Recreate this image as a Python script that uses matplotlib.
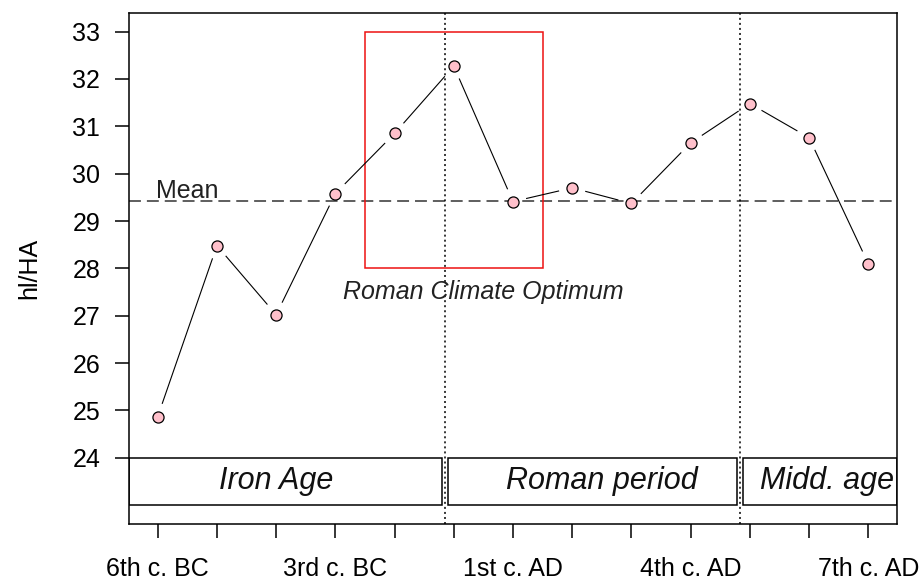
import matplotlib.pyplot as plt
import numpy as np
from matplotlib.patches import Rectangle

plt.rcParams["font.family"] = ["Liberation Sans", "DejaVu Sans"]

centuries = ["6th c. BC", "5th c. BC", "4th c. BC", "3rd c. BC", "2nd c. BC",
             "1st c. BC", "1st c. AD", "2nd c. AD", "3rd c. AD", "4th c. AD",
             "5th c. AD", "6th c. AD", "7th c. AD"]
yields = [24.87, 28.48, 27.02, 29.58, 30.85, 32.27, 29.41,
          29.70, 29.37, 30.65, 31.48, 30.76, 28.10]

periods = ["Iron Age", "Roman period", "Midd. age"]
period_start = [-0.48, 4.91, 9.89]
period_end = [4.80, 9.78, 12.48]
period_label_x = [2.0, 7.5, 11.3]
period_breaks = [4.85, 9.84]

optimum_x = (3.5, 6.5)
optimum_y = (28, 33)


def gapped_line(ax, xs, ys, gap_px):
    # R's type="b": segments stop short of each point
    pts = ax.transData.transform(np.column_stack([xs, ys]))
    inv = ax.transData.inverted()
    for p, q in zip(pts[:-1], pts[1:]):
        d = q - p
        n = np.hypot(*d)
        if n <= 2 * gap_px:
            continue
        u = d / n
        seg = inv.transform([p + u * gap_px, q - u * gap_px])
        ax.plot(seg[:, 0], seg[:, 1], color="black", lw=0.8, zorder=3)


fig = plt.figure(figsize=(9.21, 5.84), dpi=100)
ax = fig.add_axes([0.1404, 0.1027, 0.8332, 0.8756])
ax.set_xlim(-0.48, 12.48)
ax.set_ylim(22.6, 33.4)

x = np.arange(len(yields))
mean = np.mean(yields)

# period boxes along the bottom
for name, x0, x1, xl in zip(periods, period_start, period_end, period_label_x):
    ax.add_patch(Rectangle((x0, 23), x1 - x0, 1, facecolor="white",
                           edgecolor="black", lw=1.1, zorder=2))
    ax.text(xl, 23.5, name, fontsize=22, style="italic", ha="center",
            va="center", color="#111111", zorder=4)

for b in period_breaks:
    ax.axvline(b, color="black", lw=1.1, ls=(0, (1.3, 2.0)), zorder=3)

ax.axhline(mean, color="#333333", lw=1.1, ls=(0, (7.8, 3.9)), zorder=1)
ax.text(0.5, mean + 0.2, "Mean", fontsize=18, ha="center", va="center",
        color="#222222")

ax.add_patch(Rectangle((optimum_x[0], optimum_y[0]), optimum_x[1] - optimum_x[0],
                       optimum_y[1] - optimum_y[0], fill=False,
                       edgecolor="#ee1111", lw=1.1, zorder=2))
ax.text(5.5, optimum_y[0] - 0.5, "Roman Climate Optimum",
        fontsize=18, style="italic", ha="center", va="center", color="#222222")

gapped_line(ax, x, yields, 14)
ax.plot(x, yields, ls="none", marker="o", ms=8, mfc="pink", mec="black",
        mew=0.9, zorder=5)

ax.set_xticks(x)
ax.set_xticklabels([c if i % 3 == 0 else "" for i, c in enumerate(centuries)])
ax.set_yticks(range(24, 34))
ax.tick_params(axis="both", length=10, width=1.1, labelsize=18, color="black")
ax.tick_params(axis="x", pad=14)
ax.tick_params(axis="y", pad=11)
for s in ax.spines.values():
    s.set_linewidth(1.1)

ax.set_ylabel("hl/HA", fontsize=18)
ax.yaxis.set_label_coords(-0.115, 0.5)

fig.savefig("out.png", dpi=100)
